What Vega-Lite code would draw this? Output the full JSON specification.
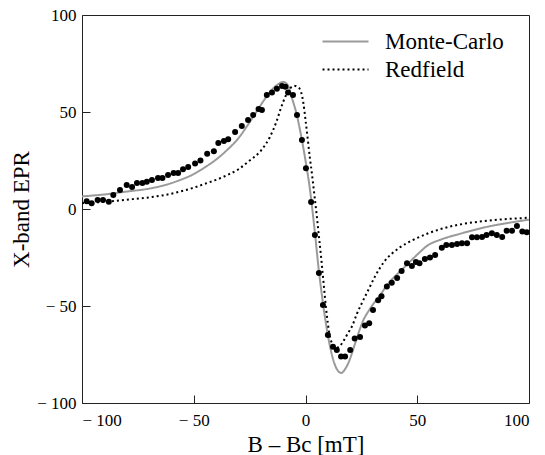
{
  "$schema": "https://vega.github.io/schema/vega-lite/v6.json",
  "autosize": {"type": "none"},
  "padding": {"left": 82, "top": 15, "right": 16, "bottom": 52},
  "width": 447,
  "height": 388,
  "background": "white",
  "config": {
    "view": {"stroke": "#222", "strokeWidth": 1},
    "font": "Liberation Serif",
    "axis": {
      "domain": false, "grid": false, "ticks": true,
      "labelFont": "Liberation Serif", "labelFontSize": 17, "labelColor": "#000",
      "titleFont": "Liberation Serif", "titleFontSize": 23, "titleFontWeight": "normal", "titleColor": "#000",
      "tickColor": "#222", "tickWidth": 1
    },
    "legend": {"labelFont": "Liberation Serif", "labelFontSize": 23, "labelColor": "#000", "padding": 0}
  },
  "datasets": {
    "curves": [
      {"x": -100, "y": 6.5, "series": "Monte-Carlo"},
      {"x": -90, "y": 7.5, "series": "Monte-Carlo"},
      {"x": -80, "y": 9, "series": "Monte-Carlo"},
      {"x": -70, "y": 10.5, "series": "Monte-Carlo"},
      {"x": -64, "y": 12, "series": "Monte-Carlo"},
      {"x": -56, "y": 15, "series": "Monte-Carlo"},
      {"x": -50, "y": 18, "series": "Monte-Carlo"},
      {"x": -45, "y": 21.5, "series": "Monte-Carlo"},
      {"x": -40, "y": 25.5, "series": "Monte-Carlo"},
      {"x": -35, "y": 30.5, "series": "Monte-Carlo"},
      {"x": -30, "y": 36.5, "series": "Monte-Carlo"},
      {"x": -26, "y": 43, "series": "Monte-Carlo"},
      {"x": -22, "y": 50, "series": "Monte-Carlo"},
      {"x": -18, "y": 57, "series": "Monte-Carlo"},
      {"x": -15, "y": 61.5, "series": "Monte-Carlo"},
      {"x": -12, "y": 64.5, "series": "Monte-Carlo"},
      {"x": -10, "y": 65.5, "series": "Monte-Carlo"},
      {"x": -8, "y": 64, "series": "Monte-Carlo"},
      {"x": -6, "y": 57, "series": "Monte-Carlo"},
      {"x": -4, "y": 49, "series": "Monte-Carlo"},
      {"x": -2, "y": 38, "series": "Monte-Carlo"},
      {"x": 0, "y": 25, "series": "Monte-Carlo"},
      {"x": 2, "y": 10, "series": "Monte-Carlo"},
      {"x": 4, "y": -10, "series": "Monte-Carlo"},
      {"x": 6, "y": -32, "series": "Monte-Carlo"},
      {"x": 8, "y": -50, "series": "Monte-Carlo"},
      {"x": 10, "y": -65, "series": "Monte-Carlo"},
      {"x": 12, "y": -76, "series": "Monte-Carlo"},
      {"x": 14, "y": -82.5, "series": "Monte-Carlo"},
      {"x": 16, "y": -84.5, "series": "Monte-Carlo"},
      {"x": 18, "y": -82, "series": "Monte-Carlo"},
      {"x": 20, "y": -77, "series": "Monte-Carlo"},
      {"x": 22, "y": -70, "series": "Monte-Carlo"},
      {"x": 24, "y": -63, "series": "Monte-Carlo"},
      {"x": 26, "y": -57, "series": "Monte-Carlo"},
      {"x": 28, "y": -53, "series": "Monte-Carlo"},
      {"x": 30, "y": -49.5, "series": "Monte-Carlo"},
      {"x": 33, "y": -45, "series": "Monte-Carlo"},
      {"x": 37, "y": -38.5, "series": "Monte-Carlo"},
      {"x": 42, "y": -32.5, "series": "Monte-Carlo"},
      {"x": 46, "y": -28, "series": "Monte-Carlo"},
      {"x": 50, "y": -23.5, "series": "Monte-Carlo"},
      {"x": 55, "y": -18.5, "series": "Monte-Carlo"},
      {"x": 60, "y": -16, "series": "Monte-Carlo"},
      {"x": 70, "y": -12.5, "series": "Monte-Carlo"},
      {"x": 80, "y": -9.5, "series": "Monte-Carlo"},
      {"x": 90, "y": -7.3, "series": "Monte-Carlo"},
      {"x": 100, "y": -5.5, "series": "Monte-Carlo"},
      {"x": -100, "y": 3, "series": "Redfield"},
      {"x": -90, "y": 3.7, "series": "Redfield"},
      {"x": -80, "y": 4.8, "series": "Redfield"},
      {"x": -70, "y": 6, "series": "Redfield"},
      {"x": -64, "y": 7, "series": "Redfield"},
      {"x": -56, "y": 9, "series": "Redfield"},
      {"x": -50, "y": 11, "series": "Redfield"},
      {"x": -45, "y": 13, "series": "Redfield"},
      {"x": -40, "y": 15, "series": "Redfield"},
      {"x": -35, "y": 17.5, "series": "Redfield"},
      {"x": -30, "y": 20.5, "series": "Redfield"},
      {"x": -25, "y": 25, "series": "Redfield"},
      {"x": -20, "y": 30, "series": "Redfield"},
      {"x": -16, "y": 37, "series": "Redfield"},
      {"x": -13, "y": 45, "series": "Redfield"},
      {"x": -11, "y": 52, "series": "Redfield"},
      {"x": -9, "y": 58, "series": "Redfield"},
      {"x": -7, "y": 62, "series": "Redfield"},
      {"x": -5, "y": 63.5, "series": "Redfield"},
      {"x": -3, "y": 62.5, "series": "Redfield"},
      {"x": -1, "y": 55, "series": "Redfield"},
      {"x": 0, "y": 46, "series": "Redfield"},
      {"x": 1, "y": 36, "series": "Redfield"},
      {"x": 2, "y": 26, "series": "Redfield"},
      {"x": 3, "y": 17, "series": "Redfield"},
      {"x": 4, "y": 7, "series": "Redfield"},
      {"x": 5, "y": -3, "series": "Redfield"},
      {"x": 6, "y": -14, "series": "Redfield"},
      {"x": 7, "y": -25, "series": "Redfield"},
      {"x": 8, "y": -37, "series": "Redfield"},
      {"x": 9, "y": -49, "series": "Redfield"},
      {"x": 10, "y": -59, "series": "Redfield"},
      {"x": 11, "y": -66, "series": "Redfield"},
      {"x": 12, "y": -69.5, "series": "Redfield"},
      {"x": 13, "y": -71, "series": "Redfield"},
      {"x": 14, "y": -71.5, "series": "Redfield"},
      {"x": 15, "y": -71, "series": "Redfield"},
      {"x": 17, "y": -68, "series": "Redfield"},
      {"x": 19, "y": -64, "series": "Redfield"},
      {"x": 21, "y": -60, "series": "Redfield"},
      {"x": 23, "y": -54, "series": "Redfield"},
      {"x": 25, "y": -49, "series": "Redfield"},
      {"x": 28, "y": -42, "series": "Redfield"},
      {"x": 31, "y": -35, "series": "Redfield"},
      {"x": 35, "y": -27.5, "series": "Redfield"},
      {"x": 42, "y": -20, "series": "Redfield"},
      {"x": 48, "y": -16, "series": "Redfield"},
      {"x": 55, "y": -12.5, "series": "Redfield"},
      {"x": 60, "y": -10.5, "series": "Redfield"},
      {"x": 70, "y": -7.8, "series": "Redfield"},
      {"x": 80, "y": -6.2, "series": "Redfield"},
      {"x": 90, "y": -5.2, "series": "Redfield"},
      {"x": 100, "y": -4.5, "series": "Redfield"}
    ],
    "exp": [
      {"x": -97.9, "y": 4}, {"x": -95.7, "y": 3}, {"x": -93, "y": 4.6}, {"x": -90.6, "y": 4.6},
      {"x": -88, "y": 3.7}, {"x": -86, "y": 7.2}, {"x": -83, "y": 9.8}, {"x": -80, "y": 12.4},
      {"x": -77.6, "y": 11.3}, {"x": -75.4, "y": 13.4}, {"x": -73, "y": 13.4}, {"x": -71, "y": 14},
      {"x": -68.7, "y": 15}, {"x": -66, "y": 16}, {"x": -64, "y": 16}, {"x": -61.5, "y": 17.5},
      {"x": -59, "y": 18.5}, {"x": -57, "y": 18.6}, {"x": -54.8, "y": 20.5}, {"x": -52.5, "y": 21.6},
      {"x": -49.4, "y": 23.5}, {"x": -47, "y": 25}, {"x": -44, "y": 28.5}, {"x": -41, "y": 29.8},
      {"x": -39, "y": 34}, {"x": -36.5, "y": 35}, {"x": -34.6, "y": 36}, {"x": -31.5, "y": 39.7},
      {"x": -28.5, "y": 42.8}, {"x": -25.7, "y": 45.9}, {"x": -23.4, "y": 48.5}, {"x": -21, "y": 51.5},
      {"x": -19.5, "y": 51}, {"x": -17.3, "y": 58.8}, {"x": -15, "y": 60}, {"x": -12.8, "y": 62},
      {"x": -10.5, "y": 63.4}, {"x": -9, "y": 63}, {"x": -7.8, "y": 60}, {"x": -5.6, "y": 58.7},
      {"x": -3.8, "y": 48.5}, {"x": -1.6, "y": 35.6}, {"x": 0.2, "y": 21}, {"x": 2.5, "y": 3.6},
      {"x": 4.2, "y": -13.4}, {"x": 6, "y": -33}, {"x": 7.8, "y": -49.5}, {"x": 10, "y": -65},
      {"x": 12.3, "y": -71}, {"x": 14, "y": -72.7}, {"x": 15.9, "y": -76}, {"x": 17.7, "y": -76},
      {"x": 20, "y": -72.7}, {"x": 22, "y": -66.7}, {"x": 24.4, "y": -66}, {"x": 26.6, "y": -60},
      {"x": 28.5, "y": -58.9}, {"x": 30.2, "y": -52}, {"x": 32.5, "y": -47}, {"x": 34, "y": -45},
      {"x": 36.4, "y": -40}, {"x": 38.6, "y": -38}, {"x": 41, "y": -35.6}, {"x": 43, "y": -32},
      {"x": 45.4, "y": -28}, {"x": 47.6, "y": -29.4}, {"x": 49.4, "y": -27.3}, {"x": 51, "y": -28},
      {"x": 53.4, "y": -25.8}, {"x": 55.7, "y": -25}, {"x": 58, "y": -23.7}, {"x": 61, "y": -20},
      {"x": 63, "y": -18.6}, {"x": 65.5, "y": -18.5}, {"x": 67.8, "y": -18}, {"x": 70, "y": -17.6},
      {"x": 72.3, "y": -17.6}, {"x": 74.5, "y": -14.5}, {"x": 76.7, "y": -14.5}, {"x": 79, "y": -14.4},
      {"x": 81, "y": -13.4}, {"x": 83.4, "y": -12.5}, {"x": 85.6, "y": -13.4}, {"x": 88, "y": -14.4},
      {"x": 90, "y": -11.2}, {"x": 92.4, "y": -11.2}, {"x": 94.6, "y": -8.8}, {"x": 97, "y": -11.6},
      {"x": 99, "y": -12}
    ]
  },
  "layer": [
    {
      "data": {"name": "curves"},
      "mark": {"type": "line", "strokeWidth": 2, "interpolate": "monotone", "clip": true},
      "encoding": {
        "x": {"field": "x", "type": "quantitative", "scale": {"domain": [-100, 100], "nice": false},
          "axis": {"values": [-100, -50, 0, 50, 100], "title": "B – Bc [mT]", "ticks": true, "tickSize": -8,
            "labelPadding": 17, "titlePadding": 5,
            "labelExpr": "datum.value < 0 ? '− ' + abs(datum.value) : datum.value"}},
        "y": {"field": "y", "type": "quantitative", "scale": {"domain": [-100, 100], "nice": false},
          "axis": {"values": [-100, -50, 0, 50, 100], "title": "X-band EPR", "ticks": true, "tickSize": -8,
            "labelPadding": 14, "titlePadding": 3,
            "labelExpr": "datum.value < 0 ? '− ' + abs(datum.value) : datum.value"}},
        "color": {"field": "series", "type": "nominal",
          "scale": {"domain": ["Monte-Carlo", "Redfield"], "range": ["#9a9a9a", "#000000"]},
          "legend": {"title": null, "orient": "none", "legendX": 252, "legendY": 15, "symbolType": "M-4.6,0H4.6", "symbolSize": 100,
            "symbolStrokeWidth": 2, "labelOffset": 28, "rowPadding": 4}},
        "strokeDash": {"field": "series", "type": "nominal",
          "scale": {"domain": ["Monte-Carlo", "Redfield"], "range": [[1, 0], [2, 3]]},
          "legend": {"title": null, "orient": "none", "legendX": 252, "legendY": 15, "symbolType": "M-4.6,0H4.6", "symbolSize": 100,
            "symbolStrokeWidth": 2, "labelOffset": 28, "rowPadding": 4}}
      }
    },
    {
      "data": {"name": "exp"},
      "mark": {"type": "circle", "size": 36, "color": "#000", "opacity": 1},
      "encoding": {
        "x": {"field": "x", "type": "quantitative"},
        "y": {"field": "y", "type": "quantitative"}
      }
    }
  ]
}
